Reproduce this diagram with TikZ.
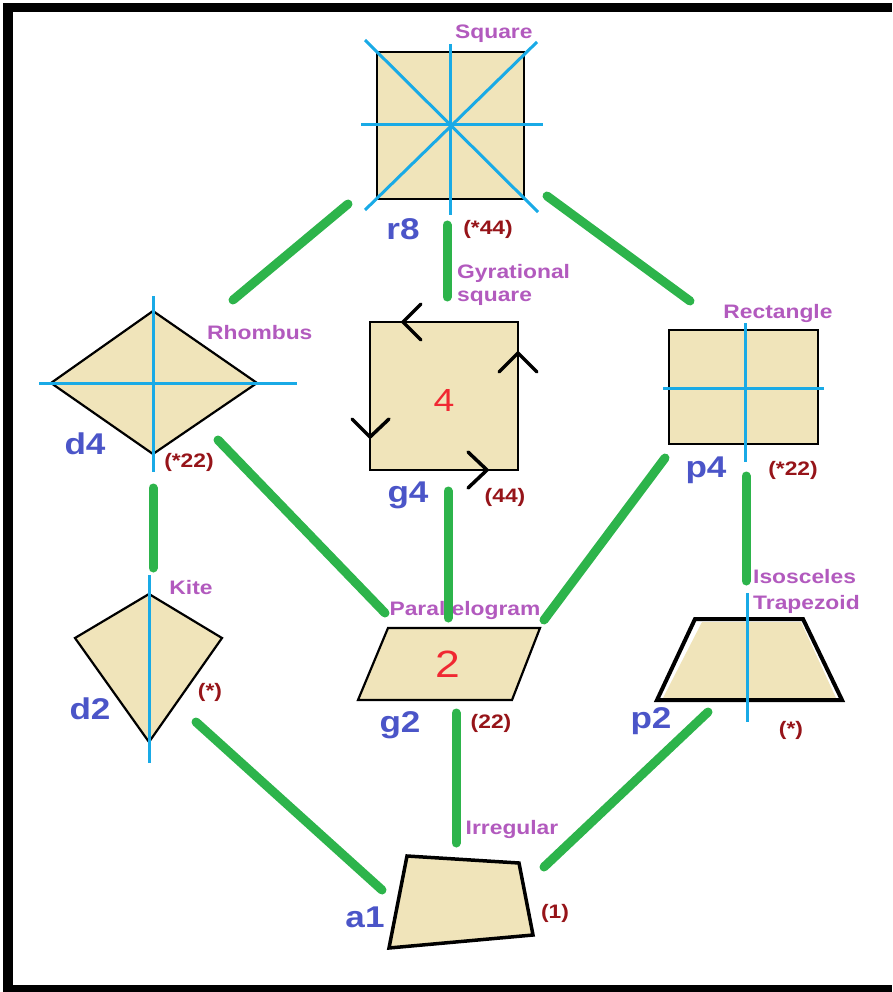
\documentclass[tikz,border=0pt]{standalone}
\usepackage{fontspec}
\newfontfamily\lbl[FakeStretch=1.17]{Liberation Sans}
\definecolor{shapefill}{RGB}{240,228,186}
\definecolor{axisblue}{RGB}{25,170,230}
\definecolor{linkgreen}{RGB}{45,180,75}
\definecolor{symblue}{RGB}{75,85,200}
\definecolor{namepurple}{RGB}{178,90,190}
\definecolor{ordred}{RGB}{150,20,25}
\definecolor{numred}{RGB}{240,40,50}
\begin{document}
\begin{tikzpicture}[x=1pt,y=-1pt,
  shp/.style={fill=shapefill,draw=black,line width=2.2pt,line join=miter},
  axisline/.style={draw=axisblue,line width=3pt},
  link/.style={draw=linkgreen,line width=9pt,line cap=round},
  chev/.style={draw=black,line width=3.5pt,line cap=round,line join=miter},
  symlbl/.style={text=symblue,font=\lbl\bfseries\fontsize{30}{32}\selectfont,inner sep=0pt},
  namelbl/.style={text=namepurple,font=\lbl\bfseries\fontsize{19.5}{23}\selectfont,inner sep=0pt},
  ordlbl/.style={text=ordred,font=\lbl\bfseries\fontsize{19.5}{22}\selectfont,inner sep=0pt},
  numlbl/.style={text=numred,font=\lbl\fontsize{32}{34}\selectfont,inner sep=0pt}]
\useasboundingbox (0,0) rectangle (892,992);
% frame
\fill[black] (3,3) rectangle (13,992);
\fill[black] (3,3) rectangle (892,12);
\fill[black] (3,985) rectangle (892,992);

% ---------- r8 square ----------
\draw[shp,line width=2.8pt] (377,52) rectangle (524,199);
\draw[axisline] (450,44) -- (450,215);
\draw[axisline] (361,125) -- (543,125);
\draw[axisline] (365,40) -- (538,212);
\draw[axisline] (537,42) -- (365,210);
\coordinate (r8) at (450,125);
\node[namelbl,anchor=west] (sqname) at (455,34) {Square};
\node[symlbl] (r8sym) at (403,229) {r8};
\node[ordlbl] (r8ord) at (488,229) {(*44)};

% ---------- g4 gyrational square ----------
\draw[shp,line width=2.8pt] (370,322) rectangle (518,470);
\coordinate (g4) at (444,396);
\node[numlbl] (g4num) at (444,400) {4};
\draw[chev] (421,304) -- (403,322) -- (421,340);
\draw[chev] (499,372) -- (518,353) -- (537,372);
\draw[chev] (352,419) -- (370,437) -- (389,419);
\draw[chev] (468,452) -- (487,470) -- (468,488);
\node[namelbl,anchor=north west,align=left] (gyrname) at (457,264) {Gyrational\\square};
\node[symlbl] (g4sym) at (408,495) {g4};
\node[ordlbl] (g4ord) at (505,497) {(44)};

% ---------- d4 rhombus ----------
\draw[shp] (51,383) -- (153,311) -- (257,383) -- (153,454) -- cycle;
\draw[axisline] (39,383) -- (297,383);
\draw[axisline] (153,296) -- (153,472);
\coordinate (d4) at (153,383);
\node[namelbl,anchor=west] (rhname) at (207,333) {Rhombus};
\node[symlbl] (d4sym) at (85,444) {d4};
\node[ordlbl] (d4ord) at (189,462) {(*22)};

% ---------- p4 rectangle ----------
\draw[shp,line width=2.8pt] (669,330) rectangle (818,444);
\draw[axisline] (745,323) -- (745,462);
\draw[axisline] (663,388) -- (824,388);
\coordinate (p4) at (745,388);
\node[namelbl] (rectname) at (778,313) {Rectangle};
\node[symlbl] (p4sym) at (706,470) {p4};
\node[ordlbl] (p4ord) at (793,470) {(*22)};

% ---------- d2 kite ----------
\draw[shp] (149,594) -- (222,638) -- (149,742) -- (75,638) -- cycle;
\draw[axisline] (149,575) -- (149,763);
\coordinate (d2) at (149,660);
\node[namelbl] (kitename) at (191,588) {Kite};
\node[symlbl] (d2sym) at (90,709) {d2};
\node[ordlbl] (d2ord) at (210,692) {(*)};

% ---------- g2 parallelogram ----------
\draw[shp] (388,628) -- (540,628) -- (512,700) -- (358,700) -- cycle;
\coordinate (g2) at (449,664);
\node[numlbl,font=\lbl\fontsize{38}{40}\selectfont] (g2num) at (448,664) {2};
\node[namelbl] (parname) at (465,610) {Parallelogram};
\node[symlbl] (g2sym) at (400,725) {g2};
\node[ordlbl] (g2ord) at (491,723) {(22)};

% ---------- p2 isosceles trapezoid ----------
\fill[white] (695,619) -- (803,619) -- (842,700) -- (657,700) -- cycle;
\fill[shapefill] (702,622) -- (801,622) -- (836,698) -- (663,698) -- cycle;
\draw[black,line width=4pt,line join=miter] (695,619) -- (803,619) -- (842,700) -- (657,700) -- cycle;
\draw[axisline] (747,593) -- (747,722);
\coordinate (p2) at (747,660);
\node[namelbl,anchor=north west,align=left] (trapname) at (753,569) {Isosceles\\[3pt]Trapezoid};
\node[symlbl] (p2sym) at (651,721) {p2};
\node[ordlbl] (p2ord) at (791,730) {(*)};

% ---------- a1 irregular ----------
\draw[shp,line width=3.5pt] (407,856) -- (519,863) -- (533,935) -- (389,948) -- cycle;
\coordinate (a1) at (462,900);
\node[namelbl] (irrname) at (512,829) {Irregular};
\node[symlbl] (a1sym) at (365,917) {a1};
\node[ordlbl] (a1ord) at (555,913) {(1)};

% ---------- connector ends ----------
\coordinate (r8d4a) at (348,204);  \coordinate (r8d4b) at (233,300);
\coordinate (r8g4a) at (447,225);  \coordinate (r8g4b) at (447,297);
\coordinate (r8p4a) at (547,196);  \coordinate (r8p4b) at (690,301);
\coordinate (d4d2a) at (153,488);  \coordinate (d4d2b) at (153,568);
\coordinate (d4g2a) at (218,440);  \coordinate (d4g2b) at (385,613);
\coordinate (g4g2a) at (448,491);  \coordinate (g4g2b) at (448,618);
\coordinate (p4g2a) at (665,458);  \coordinate (p4g2b) at (544,620);
\coordinate (p4p2a) at (746,476);  \coordinate (p4p2b) at (746,581);
\coordinate (d2a1a) at (196,722);  \coordinate (d2a1b) at (382,890);
\coordinate (g2a1a) at (456,713);  \coordinate (g2a1b) at (456,843);
\coordinate (p2a1a) at (708,712);  \coordinate (p2a1b) at (544,867);

\draw[link] (r8d4a) -- (r8d4b);
\draw[link] (r8g4a) -- (r8g4b);
\draw[link] (r8p4a) -- (r8p4b);
\draw[link] (d4d2a) -- (d4d2b);
\draw[link] (d4g2a) -- (d4g2b);
\draw[link] (g4g2a) -- (g4g2b);
\draw[link] (p4g2a) -- (p4g2b);
\draw[link] (p4p2a) -- (p4p2b);
\draw[link] (d2a1a) -- (d2a1b);
\draw[link] (g2a1a) -- (g2a1b);
\draw[link] (p2a1a) -- (p2a1b);
\end{tikzpicture}
\end{document}
